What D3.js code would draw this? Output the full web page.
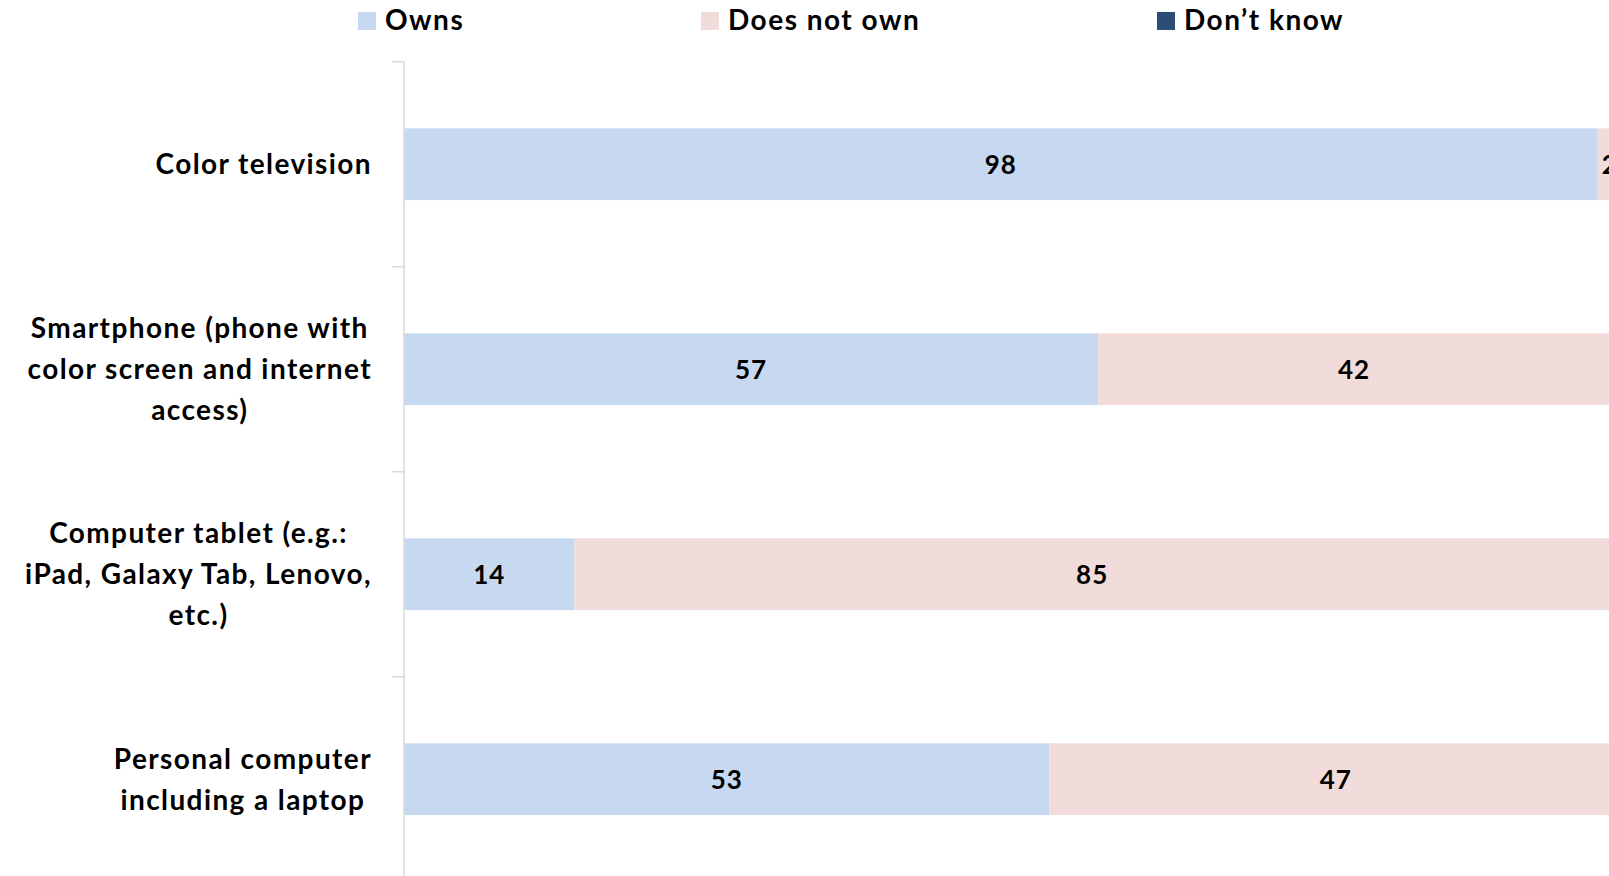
<!DOCTYPE html>
<html><head><meta charset="utf-8">
<script src="https://cdn.jsdelivr.net/npm/d3@7"></script>
<style>html,body{margin:0;padding:0;background:#fff;overflow:hidden}</style>
</head><body>
<svg id="chart" width="1609" height="876"></svg>
<script>
const categories = [
  ["Color television"],
  ["Smartphone (phone with", "color screen and internet", "access)"],
  ["Computer tablet (e.g.:", "iPad, Galaxy Tab, Lenovo,", "etc.)"],
  ["Personal computer", "including a laptop"]
];
const owns = [98, 57, 14, 53];
const doesNotOwn = [2, 42, 85, 47];
const dontKnow = [0, 1, 1, 0];
const seriesNames = ["Owns", "Does not own", "Don\u2019t know"];
const seriesColors = ["#c6d9f1", "#f2dcdb", "#2c4d75"];

const font = "Lato, 'Open Sans', sans-serif";
const svg = d3.select("#chart");
const catIds = categories.map((c, i) => i);
const x = d3.scaleLinear().domain([0, 100]).range([404, 1622]);
const y = d3.scaleBand().domain(catIds).range([61.7, 881.7]).paddingInner(0.65).paddingOuter(0.325);

const stackRows = catIds.map(i => ({id: i, s0: owns[i], s1: doesNotOwn[i], s2: dontKnow[i]}));
const stacked = d3.stack().keys(["s0", "s1", "s2"])(stackRows);

// bars
stacked.forEach((layer, si) => {
  svg.append("g").selectAll("rect").data(layer).join("rect")
    .attr("x", d => x(d[0]))
    .attr("y", d => y(d.data.id))
    .attr("width", d => Math.max(0, x(d[1]) - x(d[0])))
    .attr("height", y.bandwidth())
    .attr("fill", seriesColors[si]);
});

// value labels (series 0 and 1)
stacked.slice(0, 2).forEach((layer, si) => {
  svg.append("g").selectAll("text").data(layer.filter(d => d[1] - d[0] > 0)).join("text")
    .attr("x", d => x((d[0] + d[1]) / 2))
    .attr("y", d => y(d.data.id) + y.bandwidth() / 2)
    .attr("dy", "0.36em")
    .attr("text-anchor", "middle")
    .attr("font-family", font).attr("font-weight", "bold").attr("font-size", 26)
    .attr("letter-spacing", 1)
    .attr("fill", "#000")
    .text(d => d[1] - d[0]);
});

// axis line and ticks
const axisG = svg.append("g").attr("transform", `translate(${x(0)},0)`);
axisG.call(d3.axisLeft(y).tickSize(0).tickFormat(""));
axisG.select(".domain").remove();
axisG.append("line").attr("x1", 0).attr("x2", 0).attr("y1", y.range()[0]).attr("y2", 880)
  .attr("stroke", "#d9d9d9").attr("stroke-width", 1.5);
const bounds = catIds.map(i => y(i) - y.step() * y.paddingInner() / 2).concat([y.range()[1]]);
axisG.selectAll(".bt").data(bounds).join("line")
  .attr("x1", -12).attr("x2", 0).attr("y1", d => d).attr("y2", d => d)
  .attr("stroke", "#d9d9d9").attr("stroke-width", 1.5);

// category labels
const lineH = 41;
const rightEdge = 372;
categories.forEach((lines, i) => {
  const g = svg.append("g");
  const cy = y(i) + y.bandwidth() / 2;
  const n = lines.length;
  const texts = lines.map((ln, k) => g.append("text")
    .attr("y", cy + (k - (n - 1) / 2) * lineH)
    .attr("dy", "0.36em")
    .attr("text-anchor", "middle")
    .attr("font-family", font).attr("font-weight", "bold").attr("font-size", 28)
    .attr("letter-spacing", 1.4)
    .attr("fill", "#000").text(ln));
  const maxW = d3.max(texts, t => t.node().getComputedTextLength());
  texts.forEach(t => t.attr("x", rightEdge - maxW / 2));
});

// legend
const legendX = [358, 701, 1157];
const lg = svg.append("g").selectAll("g").data(seriesNames).join("g")
  .attr("transform", (d, i) => `translate(${legendX[i]},12)`);
lg.append("rect").attr("width", 18).attr("height", 18).attr("fill", (d, i) => seriesColors[i]);
lg.append("text").attr("x", 27).attr("y", 18)
  .attr("font-family", font).attr("font-weight", "bold").attr("font-size", 28)
  .attr("letter-spacing", 1.5)
  .attr("fill", "#000").text(d => d);
</script>
</body></html>
